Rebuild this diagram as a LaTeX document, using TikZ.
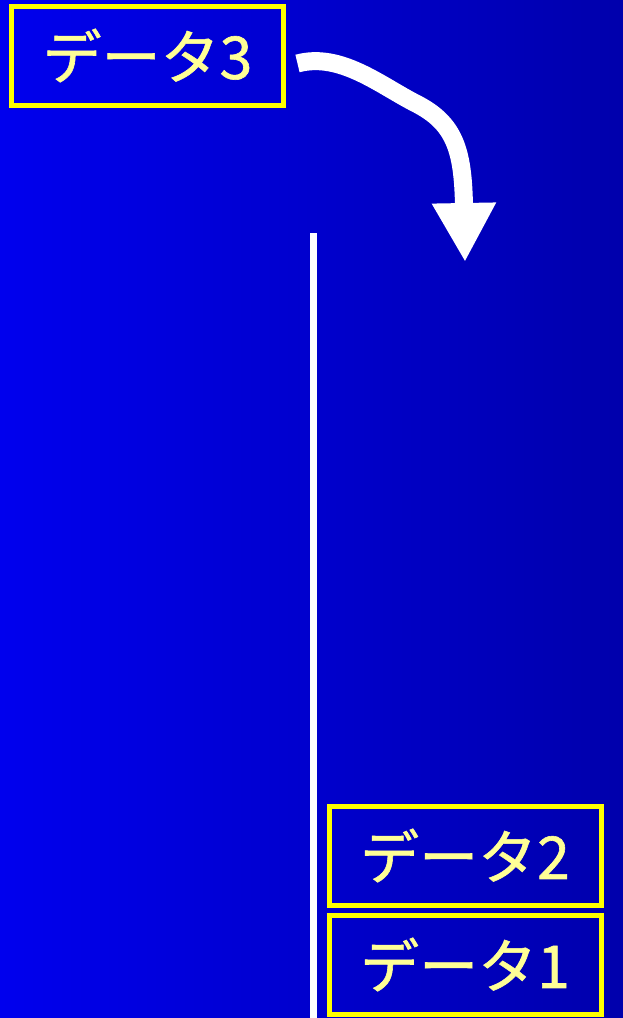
\documentclass[tikz,border=0pt]{standalone}
\usepackage{fontspec}
\usepackage{tikz}
\usetikzlibrary{arrows.meta, positioning}
\usepackage{xcolor}
\newfontfamily\jpfont[FakeBold=1]{Noto Sans CJK JP}
\definecolor{slideleft}{RGB}{0, 0, 238}
\definecolor{slideright}{RGB}{0, 0, 172}
\definecolor{boxyellow}{RGB}{255, 255, 0}
\definecolor{labelyellow}{RGB}{255, 255, 150}

\begin{document}
\begin{tikzpicture}[
    x=1pt, y=-1pt,
    databox/.style={rectangle, draw=boxyellow, line width=5pt, outer sep=0pt, inner sep=0pt,
        minimum width=272pt, minimum height=99pt, text=labelyellow,
        font=\jpfont\fontsize{59}{66}\selectfont},
    stackline/.style={white, line width=7pt},
    arrow/.style={-{Triangle[length=59pt, width=60pt]}, white, line width=18pt}
]
    \useasboundingbox (0,0) rectangle (623,1018);
    \shade[left color=slideleft, right color=slideright] (0,0) rectangle (623,1018);

    \node[databox] (data3) at (147.5,55.5) {データ3};
    \node[databox] (data2) at (465,855.5) {データ2};
    \node[databox, below=10pt of data2] (data1) {データ1};

    \coordinate (stacktop) at (313.5,233);
    \coordinate (stackbottom) at (313.5,1018);
    \coordinate (drop) at (465,262);

    \draw[stackline] (stacktop) -- (stackbottom);
    \draw[white, line width=1pt] (stackbottom) -- (623,1018);
    \draw[arrow] ([xshift=14pt, yshift=-8pt]data3.east) .. controls (340,52) and (380,85) .. (415,103)
        .. controls (455,123) and (463,150) .. (drop);
\end{tikzpicture}
\end{document}
